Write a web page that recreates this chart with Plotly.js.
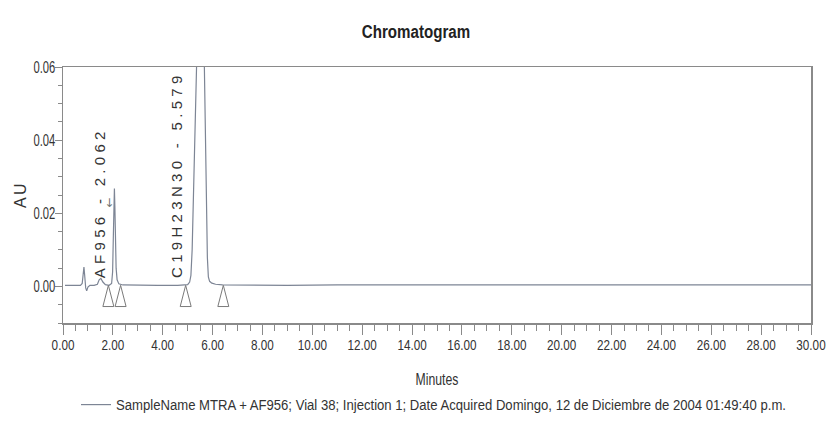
<!DOCTYPE html>
<html>
<head>
<meta charset="utf-8">
<script src="https://cdn.plot.ly/plotly-3.0.1.min.js"></script>
<style>
  html, body { margin: 0; padding: 0; background: #fff; }
  #chart { width: 831px; height: 427px; }
  /* peak labels are printed with wide letter spacing */
  .annotation-text { letter-spacing: 4.3px; }
  /* pointer glyph and axis title are centred, so tighter spacing keeps them in place */
  .annotation[data-index="2"] .annotation-text { letter-spacing: 0; }
  .annotation[data-index="3"] .annotation-text { letter-spacing: 2.2px; }
</style>
</head>
<body>
<div id="chart"></div>
<script>
// Detector trace: retention time (min) and absorbance (AU)
const timeMin = [
  0.08, 0.40, 0.70, 0.77, 0.81, 0.84, 0.87, 0.91, 0.95, 1.00,
  1.08, 1.25, 1.38, 1.45, 1.52, 1.60, 1.70, 1.85, 1.95, 1.99,
  2.02, 2.04, 2.062, 2.08, 2.10, 2.13, 2.17, 2.24, 2.40, 3.00,
  3.80, 4.60, 5.00, 5.08, 5.13, 5.18, 5.24, 5.30, 5.36, 5.45,
  5.579, 5.62, 5.67, 5.71, 5.75, 5.79, 5.83, 5.88, 5.97, 6.12,
  6.40, 7.50, 9.00, 11.00, 13.00, 15.00, 17.00, 19.00, 21.00, 23.00,
  25.00, 27.00, 29.00, 30.00
];
const absorbanceAU = [
  0.0003, 0.0003, 0.0003, 0.0008, 0.0035, 0.0053, 0.0030, -0.0004, -0.0012, -0.0002,
  0.0003, 0.0003, 0.0006, 0.0018, 0.0022, 0.0012, 0.0005, 0.0003, 0.0008, 0.0040,
  0.0140, 0.0230, 0.0268, 0.0220, 0.0120, 0.0050, 0.0018, 0.0007, 0.0004, 0.0003,
  0.0003, 0.0003, 0.0005, 0.0012, 0.0030, 0.0100, 0.0250, 0.0420, 0.0610, 0.1400,
  0.2900, 0.1800, 0.0600, 0.0420, 0.0240, 0.0080, 0.0026, 0.0014, 0.0009, 0.0006,
  0.0004, 0.0003, 0.0003, 0.0004, 0.0003, 0.0004, 0.0004, 0.0003, 0.0004, 0.0004,
  0.0003, 0.0004, 0.0004, 0.0004
];

// Identified peaks
const peakNames = ['AF956', 'C19H23N30'];
const peakTimes = [2.062, 5.579];

// Integration start/end events (min)
const integrationEvents = [1.82, 2.31, 4.92, 6.43];
const baselineAU = 0.0003;

// Axis ticks
const xTickVals = [0, 2, 4, 6, 8, 10, 12, 14, 16, 18, 20, 22, 24, 26, 28, 30];
const yTickVals = [0.00, 0.02, 0.04, 0.06];

const sampleLabel = 'SampleName MTRA + AF956; Vial 38; Injection 1; Date Acquired Domingo, 12 de Diciembre de 2004 01:49:40 p.m.';

const sans = '"Liberation Sans", Arial, sans-serif';
const axisGrey = '#8a8a8a';
const textGrey = '#333333';

// Open triangles hanging below the baseline at each integration event
const triHalfWidth = 0.22;   // min
const triDepth = 0.0058;     // AU
const triX = [], triY = [];
integrationEvents.forEach(t => {
  triX.push(t - triHalfWidth, t, t + triHalfWidth, t - triHalfWidth, null);
  triY.push(baselineAU - triDepth, baselineAU, baselineAU - triDepth, baselineAU - triDepth, null);
});

const traces = [
  {
    x: timeMin, y: absorbanceAU, type: 'scatter', mode: 'lines',
    name: sampleLabel,
    line: { color: '#7d8595', width: 1.2 },
    hoverinfo: 'skip'
  },
  {
    x: triX, y: triY, type: 'scatter', mode: 'lines',
    showlegend: false,
    line: { color: '#7a7a7a', width: 1 },
    hoverinfo: 'skip'
  }
];

const labelShift = [-5, -15];
const annotations = peakNames.map((n, i) => ({
  x: peakTimes[i], y: 0.0018, xref: 'x', yref: 'y',
  text: n + ' - ' + peakTimes[i].toFixed(3),
  textangle: -90, showarrow: false,
  xanchor: 'right', yanchor: 'bottom', xshift: labelShift[i],
  font: { family: sans, size: 15, color: textGrey }
}));

// pointer to the first labelled peak
annotations.push({
  x: peakTimes[0], y: 0.0228, xref: 'x', yref: 'y',
  text: '↓', showarrow: false, xanchor: 'center', yanchor: 'middle', xshift: -5,
  font: { family: '"DejaVu Sans", sans-serif', size: 12, color: '#777777' }
});

// y-axis title beside the tick labels
annotations.push({
  x: -43 / 748, y: 0.5, xref: 'paper', yref: 'paper',
  text: 'AU', textangle: -90, showarrow: false,
  xanchor: 'center', yanchor: 'middle',
  font: { family: sans, size: 16, color: textGrey }
});

const layout = {
  width: 831, height: 427,
  paper_bgcolor: '#ffffff', plot_bgcolor: '#ffffff',
  margin: { l: 63, r: 20, t: 67, b: 104 },
  title: {
    text: 'Chromatogram',
    font: { family: sans, size: 18, color: '#222222', weight: 'bold' },
    x: 416 / 831, xref: 'container', xanchor: 'center',
    y: 1 - 32 / 427, yref: 'container', yanchor: 'middle'
  },
  xaxis: {
    range: [0, 30], tickvals: xTickVals, tickformat: '.2f',
    ticks: 'outside', ticklen: 10, tickcolor: axisGrey, tickwidth: 1,
    minor: { dtick: 0.5, ticks: 'outside', ticklen: 6, tickcolor: axisGrey, showgrid: false },
    showline: true, linecolor: axisGrey, linewidth: 1.5, mirror: true,
    showgrid: false, zeroline: false,
    ticklabeloverflow: 'allow', ticklabelstandoff: -3,
    tickfont: { family: sans, size: 15, color: textGrey },
    title: { text: 'Minutes', standoff: 25, font: { family: sans, size: 17, color: textGrey } }
  },
  yaxis: {
    range: [-0.01, 0.06], tickvals: yTickVals, tickformat: '.2f',
    ticks: 'outside', ticklen: 7, tickcolor: axisGrey, tickwidth: 1,
    minor: { dtick: 0.005, ticks: 'outside', ticklen: 3.5, tickcolor: axisGrey, showgrid: false },
    showline: true, linecolor: axisGrey, linewidth: 1.5, mirror: true,
    showgrid: false, zeroline: false,
    ticklabelstandoff: -4,
    tickfont: { family: sans, size: 16, color: textGrey }
  },
  showlegend: true,
  legend: {
    orientation: 'h', xref: 'container', yref: 'container',
    x: 76 / 831, xanchor: 'left', y: 1 - 405 / 427, yanchor: 'middle',
    font: { family: sans, size: 14, color: textGrey },
    bgcolor: 'rgba(0,0,0,0)'
  },
  annotations: annotations
};

// Condense text horizontally (narrow typeface look) while keeping its anchor
function condense(selector, factor) {
  document.querySelectorAll(selector).forEach(t => {
    const w = t.getComputedTextLength();
    if (w > 0) {
      t.setAttribute('textLength', (w * factor).toFixed(2));
      t.setAttribute('lengthAdjust', 'spacingAndGlyphs');
    }
  });
}
function condenseTo(selector, width) {
  document.querySelectorAll(selector).forEach(t => {
    const w = t.getComputedTextLength();
    if (w > width) {
      t.setAttribute('textLength', width.toFixed(2));
      t.setAttribute('lengthAdjust', 'spacingAndGlyphs');
    }
  });
}

Plotly.newPlot('chart', traces, layout, { displayModeBar: false, staticPlot: true })
  .then(() => {
    condense('#chart .xtick text', 0.78);
    condense('#chart .ytick text', 0.70);
    condense('#chart .xtitle', 0.72);
    condense('#chart .gtitle', 0.84);
    condenseTo('#chart .legendtext', 670);
  });
</script>
</body>
</html>
